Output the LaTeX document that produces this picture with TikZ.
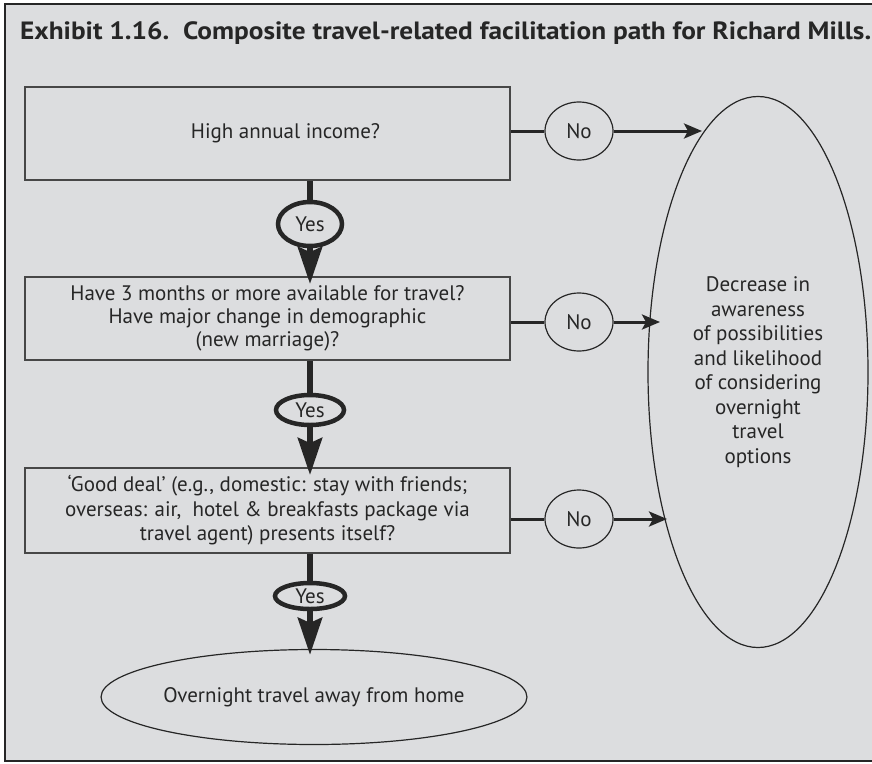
\documentclass[tikz,border=0pt]{standalone}
\usepackage{fontspec}
\setmainfont{PT Sans}
\usetikzlibrary{arrows.meta,shapes.geometric}
\definecolor{panel}{HTML}{DCDDDF}
\definecolor{ink}{HTML}{262626}
\begin{document}
\begin{tikzpicture}[x=1pt,y=-1pt,
  every node/.style={text=ink, font=\fontsize{21}{24}\selectfont},
  qbox/.style={draw=ink!85, line width=1.8pt, rectangle, minimum width=485pt, align=center, inner sep=0pt},
  yesnode/.style={draw=ink, line width=4.5pt, ellipse, inner sep=0pt},
  nonode/.style={draw=ink, line width=1.2pt, ellipse, minimum width=68pt, minimum height=58pt, inner sep=0pt},
  endnode/.style={draw=ink, line width=1.2pt, ellipse, inner sep=0pt, align=center},
  yesline/.style={draw=ink, line width=6.5pt},
  yesarrow/.style={draw=ink, line width=6.5pt, -{Stealth[length=37pt,width=24pt,inset=5pt]}},
  noarrow/.style={draw=ink, line width=3pt, -{Stealth[length=18pt,width=15pt,inset=4pt]}},
]
\useasboundingbox (0,0) rectangle (872,763);
\fill[white] (0,0) rectangle (872,763);
\draw[draw=ink, fill=panel, line width=2pt] (5,4) rectangle (885,761);

% title
\node[anchor=base west, inner sep=0pt, font=\fontsize{25}{28}\selectfont\bfseries] (title) at (20,39)
  {\resizebox{851pt}{\height}{Exhibit 1.16.\ \ Composite travel-related facilitation path for Richard Mills.}};

% question boxes
\node[qbox, minimum height=93pt] (q1) at (267.5,133.5) {\hspace*{36pt}High annual income?};
\node[qbox, minimum height=83pt, font=\fontsize{21}{23}\selectfont] (q2) at (267.5,318.5)
  {Have 3 months or more available for travel?\\Have major change in demographic\\(new marriage)?};
\node[qbox, minimum height=85pt, font=\fontsize{21}{24.5}\selectfont] (q3) at (267.5,510.5)
  {`Good deal' (e.g., domestic: stay with friends;\\overseas: air,\ \ hotel \& breakfasts package via\\travel agent) presents itself?};

% yes branches
\node[yesnode, minimum width=64pt, minimum height=44pt] (y1) at (310,224) {Yes};
\node[yesnode, minimum width=68pt, minimum height=30pt] (y2) at (310,410) {Yes};
\node[yesnode, minimum width=70pt, minimum height=26pt] (y3) at (310,596) {Yes};

% outcomes
\node[endnode, minimum width=372pt, minimum height=95pt] (home) at (314,697) {Overnight travel away from home};
\node[endnode, minimum width=220pt, minimum height=551pt, font=\fontsize{21}{24.5}\selectfont] (dec) at (758,372)
  {Decrease in\\awareness\\of possibilities\\and likelihood\\of considering\\overnight\\travel\\options};

% no branches
\node[nonode] (n1) at (579,131) {No};
\node[nonode] (n2) at (579,322) {No};
\node[nonode] (n3) at (579,519) {No};
\coordinate (t1) at (702,131);
\coordinate (t2) at (660,322);
\coordinate (t3) at (667,519);

% yes connectors
\draw[yesline] (q1.south -| y1) -- (y1.north);
\draw[yesarrow, shorten >=-8pt] (y1.south) -- (q2.north -| y1);
\draw[yesline] (q2.south -| y2) -- (y2.north);
\draw[yesarrow, shorten >=-8pt] (y2.south) -- (q3.north -| y2);
\draw[yesline] (q3.south -| y3) -- (y3.north);
\draw[yesarrow, shorten >=-6pt] (y3.south) -- (home.north -| y3);

% no connectors
\draw[draw=ink, line width=3pt] (q1.east |- n1) -- (n1.west);
\draw[noarrow] (n1.east) -- (t1);
\draw[draw=ink, line width=3pt] (q2.east |- n2) -- (n2.west);
\draw[noarrow] (n2.east) -- (t2);
\draw[draw=ink, line width=3pt] (q3.east |- n3) -- (n3.west);
\draw[noarrow] (n3.east) -- (t3);
\end{tikzpicture}
\end{document}
